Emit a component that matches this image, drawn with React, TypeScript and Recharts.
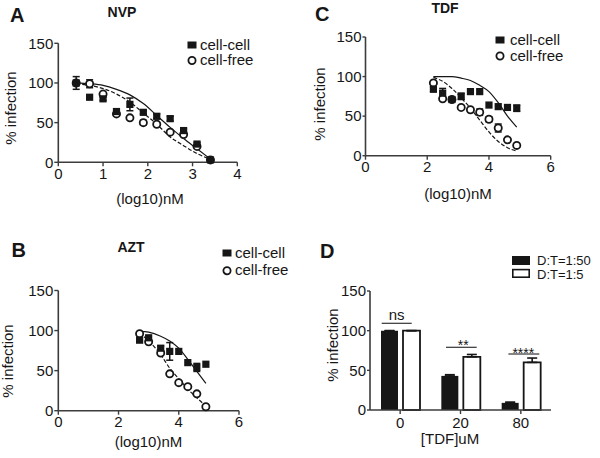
import React from 'react';
import { ComposedChart, Scatter, Line, XAxis, YAxis, ErrorBar, BarChart, Bar, Legend } from 'recharts';

const FONT = '"Liberation Sans", Arial, Helvetica, sans-serif';
const INK = '#161616';
const AXIS = '#3c3c3c';

// ---- Panel A: NVP
const nvpDose = [0.4, 0.7, 1.0, 1.3, 1.6, 1.9, 2.2, 2.5, 2.8, 3.1, 3.4];
const nvpCellCell = [100, 82, 80, 64, 73, 63, 58, 55, 40, 23, 3];
const nvpCellCellErr = [8, 0, 2, 3, 8, 2, 3, 3, 2, 2, 0];
const nvpCellFree = [100, 99, 86, 61, 56, 50, 48, 38, 35, 20, 3];
const nvpCellFreeErr = [0, 5, 2, 0, 0, 3, 0, 0, 0, 0, 0];
const nvpFitCellCell = [100, 99, 97, 92, 85, 74, 59, 44, 30, 17, 4];
const nvpFitCellFree = [99, 97, 93, 86, 76, 62, 48, 32, 21, 11, 4];

// ---- Panel B: AZT
const aztDose = [2.7, 3.0, 3.4, 3.7, 4.0, 4.3, 4.6, 4.9];
const aztCellCell = [88, 91, 78, 74, 74, 60, 54, 58];
const aztCellCellErr = [0, 0, 3, 11, 0, 0, 5, 0];
const aztCellFree = [96, 86, 72, 46, 35, 30, 21, 5];
const aztCellFreeErr = [0, 0, 0, 0, 0, 0, 0, 0];
const aztFitCellCell = [99, 98, 93, 87, 78, 64, 49, 34];
const aztFitCellFree = [97, 87, 70, 53, 40, 27, 16, 6];

// ---- Panel C: TDF
const tdfDose = [2.2, 2.5, 2.8, 3.1, 3.4, 3.7, 4.0, 4.3, 4.6, 4.9];
const tdfCellCell = [84, 79, 71, 75, 81, 81, 64, 62, 61, 60];
const tdfCellCellErr = [3, 6, 0, 4, 0, 0, 0, 0, 0, 4];
const tdfCellFree = [92, 72, 71, 61, 58, 55, 46, 35, 20, 13];
const tdfCellFreeErr = [0, 0, 0, 0, 0, 4, 3, 5, 0, 0];
const tdfFitCellCell = [100, 100, 100, 98, 95, 89, 81, 67, 50, 36];
const tdfFitCellFree = [99, 94, 85, 73, 60, 45, 30, 18, 10, 6];

// ---- Panel D: TDF concentration, donor:target ratio
const tdfConc = ['0', '20', '80'];
const ratio50 = [100, 43, 9];
const ratio50Err = [0, 1.5, 1];
const ratio5 = [100, 67, 60];
const ratio5Err = [0, 3, 5.5];

const yTicks = [0, 50, 100, 150];

const pts = (xs: number[], ys: number[], errs?: number[]) =>
  xs.map((x, i) => ({ x, y: ys[i], err: errs ? errs[i] : 0 }));

const SquareShape = (p: any) =>
  p.cx == null ? <g /> : <rect x={p.cx - 3.6} y={p.cy - 3.6} width={7.2} height={7.2} fill={INK} />;
const CircleShape = (p: any) =>
  p.cx == null ? <g /> : <circle cx={p.cx} cy={p.cy} r={3.6} fill="#fff" stroke={INK} strokeWidth={1.8} />;

const XTick = (p: any) => (
  <text x={p.x} y={p.y} dy="0.71em" textAnchor="middle" fontSize={15} fontFamily={FONT} fill={INK}>
    {p.payload.value}
  </text>
);
const YTick = (p: any) => (
  <text x={p.x} y={p.y} dy="0.355em" textAnchor="end" fontSize={15} fontFamily={FONT} fill={INK}>
    {p.payload.value}
  </text>
);

const DoseLegend = ({ spacing, textX }: { spacing: number; textX: number }) => (
  <svg width={100} height={spacing + 18} style={{ display: 'block', overflow: 'visible' }}>
    <rect x={0.5} y={3.5} width={9} height={7} fill={INK} />
    <text x={textX} y={11.5} fontSize={15} fontFamily={FONT} fill={INK}>cell-cell</text>
    <circle cx={5} cy={7 + spacing} r={3.6} fill="#fff" stroke={INK} strokeWidth={1.8} />
    <text x={textX} y={11.5 + spacing} fontSize={15} fontFamily={FONT} fill={INK}>cell-free</text>
  </svg>
);

type DoseProps = {
  dose: number[];
  cellCell: number[];
  cellCellErr: number[];
  cellFree: number[];
  cellFreeErr: number[];
  fitCellCell: number[];
  fitCellFree: number[];
  xMax: number;
  xTicks: number[];
  left: number;
  top: number;
  right: number;
  bottom: number;
  tickSize: number;
  legend: { left: number; top: number; spacing: number; textX: number };
};

const DoseChart = (p: DoseProps) => {
  const W = 300;
  const H = 229;
  return (
    <ComposedChart width={W} height={H} margin={{ top: p.top, right: W - p.right, left: 0, bottom: 0 }}>
      <XAxis
        dataKey="x"
        type="number"
        domain={[0, p.xMax]}
        ticks={p.xTicks}
        interval={0}
        height={H - p.bottom}
        tickSize={4}
        tickMargin={2}
        stroke={AXIS}
        axisLine={{ stroke: AXIS, strokeWidth: 1.6 }}
        tickLine={{ stroke: AXIS, strokeWidth: 1.4 }}
        tick={XTick}
      />
      <YAxis
        dataKey="y"
        type="number"
        domain={[0, 150]}
        ticks={yTicks}
        interval={0}
        width={p.left}
        tickSize={p.tickSize}
        tickMargin={1}
        stroke={AXIS}
        axisLine={{ stroke: AXIS, strokeWidth: 1.6 }}
        tickLine={{ stroke: AXIS, strokeWidth: 1.4 }}
        tick={YTick}
      />
      <Line
        data={pts(p.dose, p.fitCellCell)}
        dataKey="y"
        type="monotone"
        dot={false}
        activeDot={false}
        stroke={INK}
        strokeWidth={1.2}
        isAnimationActive={false}
        legendType="none"
      />
      <Line
        data={pts(p.dose, p.fitCellFree)}
        dataKey="y"
        type="monotone"
        dot={false}
        activeDot={false}
        stroke={INK}
        strokeWidth={1.2}
        strokeDasharray="4 2"
        isAnimationActive={false}
        legendType="none"
      />
      <Scatter
        name="cell-free"
        data={pts(p.dose, p.cellFree, p.cellFreeErr)}
        dataKey="y"
        shape={CircleShape}
        isAnimationActive={false}
      >
        <ErrorBar dataKey="err" direction="y" width={3.5} stroke={INK} strokeWidth={1.5} />
      </Scatter>
      <Scatter
        name="cell-cell"
        data={pts(p.dose, p.cellCell, p.cellCellErr)}
        dataKey="y"
        shape={SquareShape}
        isAnimationActive={false}
      >
        <ErrorBar dataKey="err" direction="y" width={3.5} stroke={INK} strokeWidth={1.5} />
      </Scatter>
      <Legend
        layout="vertical"
        align="center"
        verticalAlign="middle"
        wrapperStyle={{ left: p.legend.left, top: p.legend.top, width: 100, height: 40 }}
        content={() => <DoseLegend spacing={p.legend.spacing} textX={p.legend.textX} />}
      />
    </ComposedChart>
  );
};

const barRows = tdfConc.map((c, i) => ({
  conc: c,
  r50: ratio50[i],
  r50Err: [0, ratio50Err[i]],
  r5: ratio5[i],
  r5Err: [0, ratio5Err[i]],
}));

const RatioLegend = () => (
  <svg width={90} height={32} style={{ display: 'block', overflow: 'visible' }}>
    <rect x={1} y={1} width={18} height={9} fill={INK} />
    <text x={26} y={9.8} fontSize={13} fontFamily={FONT} fill={INK}>D:T=1:50</text>
    <rect x={1.8} y={14.6} width={16.4} height={7.6} fill="#fff" stroke={INK} strokeWidth={1.6} />
    <text x={26} y={24.3} fontSize={13} fontFamily={FONT} fill={INK}>D:T=1:5</text>
  </svg>
);

const RatioChart = () => (
  <BarChart width={300} height={229} data={barRows} margin={{ top: 62, right: 49, left: 0, bottom: 0 }} barGap={5}>
    <XAxis
      dataKey="conc"
      height={48}
      tickSize={4}
      tickMargin={3}
      stroke={AXIS}
      axisLine={{ stroke: AXIS, strokeWidth: 1.6 }}
      tickLine={{ stroke: AXIS, strokeWidth: 1.4 }}
      tick={XTick}
      interval={0}
    />
    <YAxis
      type="number"
      domain={[0, 150]}
      ticks={yTicks}
      interval={0}
      width={70}
      tickSize={3}
      tickMargin={1}
      stroke={AXIS}
      axisLine={{ stroke: AXIS, strokeWidth: 1.6 }}
      tickLine={{ stroke: AXIS, strokeWidth: 1.4 }}
      tick={YTick}
    />
    <Bar dataKey="r50" name="D:T=1:50" fill={INK} barSize={17} isAnimationActive={false}>
      <ErrorBar dataKey="r50Err" direction="y" width={5} stroke={INK} strokeWidth={1.6} />
    </Bar>
    <Bar dataKey="r5" name="D:T=1:5" fill="#fff" stroke={INK} strokeWidth={1.8} barSize={17} isAnimationActive={false}>
      <ErrorBar dataKey="r5Err" direction="y" width={5} stroke={INK} strokeWidth={1.6} />
    </Bar>
    <Legend
      layout="vertical"
      align="center"
      verticalAlign="middle"
      wrapperStyle={{ left: 211, top: 26, width: 90, height: 32 }}
      content={() => <RatioLegend />}
    />
  </BarChart>
);

const T = (props: any) => (
  <text fontFamily={FONT} fill={INK} {...props} />
);

export default function App() {
  return (
    <div style={{ position: 'absolute', left: 0, top: 0, width: 600, height: 458, background: '#fff', overflow: 'hidden' }}>
      <div style={{ position: 'absolute', left: 0, top: 0 }}>
        <DoseChart
          dose={nvpDose}
          cellCell={nvpCellCell}
          cellCellErr={nvpCellCellErr}
          cellFree={nvpCellFree}
          cellFreeErr={nvpCellFreeErr}
          fitCellCell={nvpFitCellCell}
          fitCellFree={nvpFitCellFree}
          xMax={4}
          xTicks={[0, 1, 2, 3, 4]}
          left={58.3}
          top={43.3}
          right={237.3}
          bottom={162.3}
          tickSize={4}
          legend={{ left: 186.7, top: 37.8, spacing: 15.5, textX: 13 }}
        />
      </div>
      <div style={{ position: 'absolute', left: 300, top: 0 }}>
        <DoseChart
          dose={tdfDose}
          cellCell={tdfCellCell}
          cellCellErr={tdfCellCellErr}
          cellFree={tdfCellFree}
          cellFreeErr={tdfCellFreeErr}
          fitCellCell={tdfFitCellCell}
          fitCellFree={tdfFitCellFree}
          xMax={6}
          xTicks={[0, 2, 4, 6]}
          left={65.5}
          top={37}
          right={250.7}
          bottom={155.7}
          tickSize={3}
          legend={{ left: 195, top: 33, spacing: 16, textX: 15 }}
        />
      </div>
      <div style={{ position: 'absolute', left: 0, top: 229 }}>
        <DoseChart
          dose={aztDose}
          cellCell={aztCellCell}
          cellCellErr={aztCellCellErr}
          cellFree={aztCellFree}
          cellFreeErr={aztCellFreeErr}
          fitCellCell={aztFitCellCell}
          fitCellFree={aztFitCellFree}
          xMax={6}
          xTicks={[0, 2, 4, 6]}
          left={58.3}
          top={61.5}
          right={239}
          bottom={181.7}
          tickSize={4}
          legend={{ left: 221.7, top: 17, spacing: 17.7, textX: 13 }}
        />
      </div>
      <div style={{ position: 'absolute', left: 300, top: 229 }}>
        <RatioChart />
      </div>
      <svg width={600} height={458} style={{ position: 'absolute', left: 0, top: 0, pointerEvents: 'none' }}>
        {/* panel letters */}
        <T x={10} y={21.5} fontSize={20} fontWeight="bold">A</T>
        <T x={315} y={20.5} fontSize={20} fontWeight="bold">C</T>
        <T x={11.5} y={257} fontSize={20} fontWeight="bold">B</T>
        <T x={320} y={258} fontSize={20} fontWeight="bold">D</T>
        {/* titles */}
        <T x={122} y={16.5} fontSize={14} fontWeight="bold" textAnchor="middle">NVP</T>
        <T x={445} y={12.5} fontSize={14} fontWeight="bold" textAnchor="middle">TDF</T>
        <T x={131} y={251.5} fontSize={14} fontWeight="bold" textAnchor="middle">AZT</T>
        {/* axis titles */}
        <T x={150} y={204} fontSize={15} textAnchor="middle">(log10)nM</T>
        <T x={458} y={199} fontSize={15} textAnchor="middle">(log10)nM</T>
        <T x={148.5} y={447} fontSize={15} textAnchor="middle">(log10)nM</T>
        <T x={450} y={443.5} fontSize={15} textAnchor="middle">[TDF]uM</T>
        <T x={16} y={108} fontSize={15} textAnchor="middle" transform="rotate(-90 16 108)">% infection</T>
        <T x={324.5} y={104} fontSize={15} textAnchor="middle" transform="rotate(-90 324.5 104)">% infection</T>
        <T x={13} y={361} fontSize={15} textAnchor="middle" transform="rotate(-90 13 361)">% infection</T>
        <T x={338} y={345} fontSize={15} textAnchor="middle" transform="rotate(-90 338 345)">% infection</T>
        {/* significance marks (panel D) */}
        <line x1={381.7} y1={323.3} x2={411.7} y2={323.3} stroke="#333" strokeWidth={1.2} />
        <T x={396.7} y={319.5} fontSize={15} textAnchor="middle">ns</T>
        <line x1={446} y1={347.3} x2={476.7} y2={347.3} stroke="#333" strokeWidth={1.2} />
        <T x={463.3} y={350} fontSize={14} textAnchor="middle">**</T>
        <line x1={508.3} y1={354} x2={539.3} y2={354} stroke="#333" strokeWidth={1.2} />
        <T x={523.3} y={357.5} fontSize={14} textAnchor="middle">****</T>
      </svg>
    </div>
  );
}
